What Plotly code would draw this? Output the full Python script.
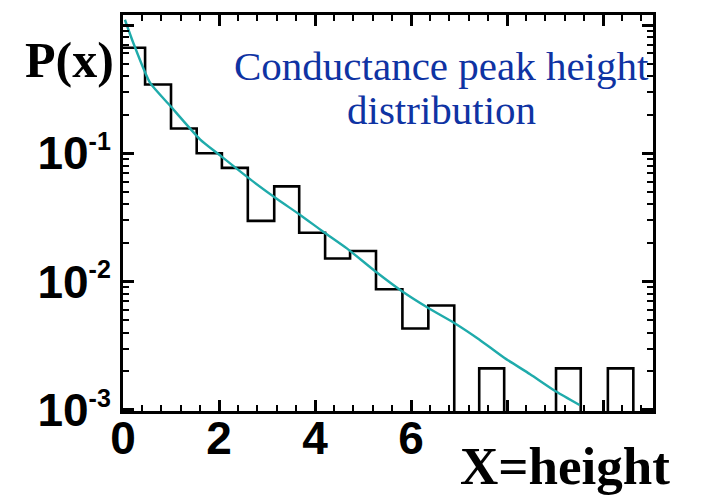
import plotly.graph_objects as go

# Histogram of conductance peak heights (bin edges and probability per bin)
bin_edges = [0.0, 0.46, 1.0, 1.535, 2.06, 2.60, 3.15, 3.67, 4.21, 4.73, 5.27,
             5.82, 6.36, 6.90, 7.42, 7.94, 8.48, 9.02, 9.535, 10.10, 10.63]
bin_prob = [0.664, 0.344, 0.156, 0.100, 0.0769, 0.0297, 0.0552, 0.0240, 0.0151,
            0.0173, 0.0087, 0.0043, 0.0065, 0.0, 0.0021, 0.0, 0.0, 0.0021, 0.0, 0.0021]

# Theoretical distribution curve
fit_x = [0.04, 0.215, 0.5625, 0.979, 1.604, 2.02, 2.646, 3.21, 3.69, 4.17, 4.67,
         5.26, 5.82, 6.36, 6.90, 7.42, 7.94, 8.48, 9.02, 9.51]
fit_logp = [0.041, -0.140, -0.450, -0.628, -0.891, -1.016, -1.202, -1.357, -1.481,
            -1.612, -1.744, -1.922, -2.078, -2.207, -2.323, -2.452, -2.595, -2.723,
            -2.858, -2.963]
fit_p = [10 ** v for v in fit_logp]

x_tickvals = [0, 2, 4, 6, 8, 10]
x_ticktext = ["0", "2", "4", "6", "", ""]
y_tickvals = [1e-3, 1e-2, 1e-1, 1]
y_exponents = ["-3", "-2", "-1", None]
y_ticktext = [("10<sup><span style='font-size:25px'>%s</span></sup>" % e) if e else ""
              for e in y_exponents]

# Empty bins sit below the visible log range so their edges drop to the axis
FLOOR = 1e-5
step_x, step_y = [], []
for i, p in enumerate(bin_prob):
    v = p if p > 0 else FLOOR
    step_x += [bin_edges[i], bin_edges[i + 1]]
    step_y += [v, v]
step_x.append(bin_edges[-1])
step_y.append(FLOOR)

W, H = 704, 499
ML, MR, MT, MB = 123, 51, 12, 88
PW, PH = W - ML - MR, H - MT - MB


def px_x(px):
    return (px - ML) / PW


def px_y(py):
    return (H - MB - py) / PH


fig = go.Figure()
fig.add_trace(go.Scatter(x=step_x, y=step_y, mode="lines",
                         line=dict(color="black", width=2.6, shape="linear"),
                         hoverinfo="skip", showlegend=False))
fig.add_trace(go.Scatter(x=fit_x, y=fit_p, mode="lines",
                         line=dict(color="#1fabab", width=2.4, shape="spline", smoothing=0.6),
                         hoverinfo="skip", showlegend=False))

axis_common = dict(showline=True, linecolor="black", linewidth=3, mirror="allticks",
                   ticks="inside", ticklen=11, tickwidth=2.5, tickcolor="black",
                   showgrid=False, zeroline=False,
                   tickfont=dict(family="Liberation Sans", size=46, color="black", weight="bold"))

fig.update_xaxes(range=[0, 11.04], tickmode="array", tickvals=x_tickvals, ticktext=x_ticktext,
                 ticklabelstandoff=-15,
                 minor=dict(dtick=0.4, tick0=0, ticks="inside", ticklen=6, tickwidth=2,
                            tickcolor="black", showgrid=False),
                 **axis_common)
fig.update_yaxes(type="log", range=[-3.01, 0.078], tickmode="array", tickvals=y_tickvals,
                 ticktext=y_ticktext,
                 minor=dict(dtick="D1", ticks="inside", ticklen=6, tickwidth=2,
                            tickcolor="black", showgrid=False),
                 **axis_common)

annotations = [
    dict(text="P(x)", x=px_x(23), y=px_y(57), xanchor="left", yanchor="middle",
         font=dict(family="Liberation Serif", size=50, color="black", weight="bold")),
    dict(text="X=height", x=px_x(565), y=px_y(466), xanchor="center", yanchor="middle",
         font=dict(family="Liberation Serif", size=53, color="black", weight="bold")),
    dict(text="Conductance peak height", x=px_x(441), y=px_y(63), xanchor="center",
         yanchor="middle", font=dict(family="Liberation Serif", size=41, color="#0f33a3")),
    dict(text="distribution", x=px_x(441), y=px_y(108), xanchor="center",
         yanchor="middle", font=dict(family="Liberation Serif", size=41, color="#0f33a3")),
]
for a in annotations:
    a.update(xref="paper", yref="paper", showarrow=False)

fig.update_layout(width=W, height=H, margin=dict(l=ML, r=MR, t=MT, b=MB),
                  paper_bgcolor="white", plot_bgcolor="white",
                  annotations=annotations, showlegend=False)

fig.write_html("out.html")
